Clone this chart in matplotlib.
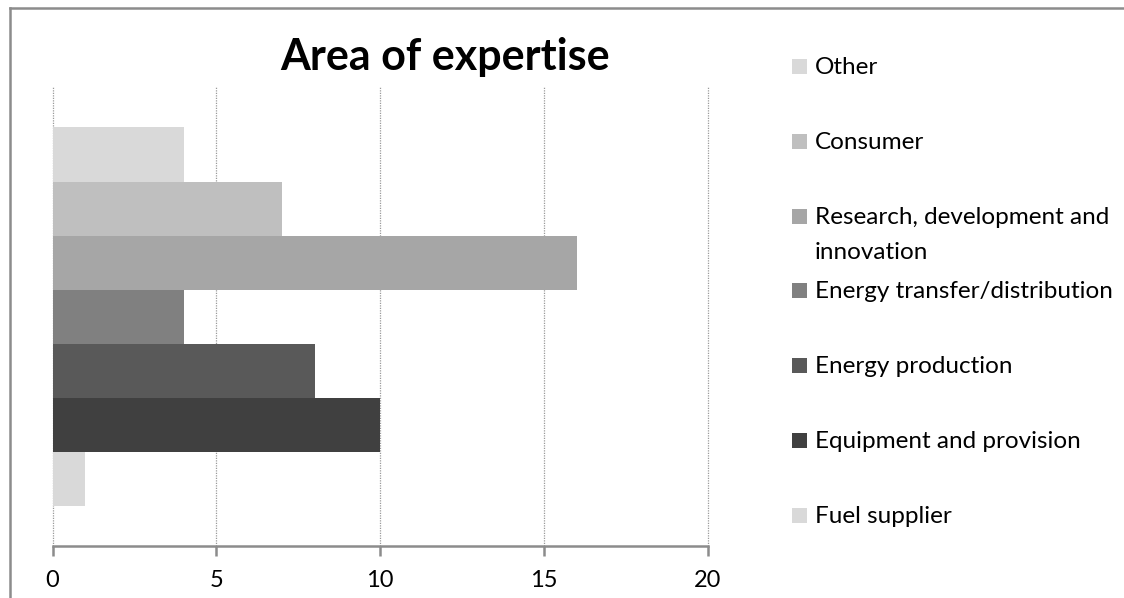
import matplotlib
matplotlib.use("Agg")
import matplotlib.pyplot as plt
from matplotlib.patches import Rectangle
from matplotlib.lines import Line2D

plt.rcParams['font.family'] = ['Lato', 'DejaVu Sans']

# Series, drawn bottom to top within the single category
series = ["Fuel supplier", "Equipment and provision", "Energy production",
          "Energy transfer/distribution", "Research, development and\ninnovation",
          "Consumer", "Other"]
values = [1, 10, 8, 4, 16, 7, 4]
colors = ["#D9D9D9", "#404040", "#595959", "#808080", "#A6A6A6", "#BFBFBF", "#D9D9D9"]
xticks = [0, 5, 10, 15, 20]
title = "Area of expertise"

W, H = 1124, 598
fig = plt.figure(figsize=(W / 100, H / 100), dpi=100)

def fx(px):
    return px / W

def fy(py):
    return 1 - py / H

# chart frame (top and left edges)
frame_kw = dict(transform=fig.transFigure, color="#8C8C8C", linewidth=1.8)
fig.add_artist(Line2D([fx(9.5), 1.0], [fy(7.5), fy(7.5)], **frame_kw))
fig.add_artist(Line2D([fx(9.5), fx(9.5)], [fy(7.5), 0.0], **frame_kw))

ax = fig.add_axes([fx(52.5), fy(546), fx(708 - 52.5), (546 - 87) / H])

n = len(series)
gap = 1.5
bh = 1.0 / (n + gap)
start = -0.5 + gap * bh / 2
for i, (v, c) in enumerate(zip(values, colors)):
    ax.barh(start + (i + 0.5) * bh, v, height=bh, color=c, zorder=2)

ax.set_xlim(0, 20)
ax.set_ylim(-0.5, 0.5)
ax.set_xticks(xticks)
ax.set_xticklabels([str(t) for t in xticks], fontsize=17)
ax.set_yticks([])
for t in xticks:
    ax.axvline(t, color="#9A9A9A", linestyle=(0, (1, 1)), linewidth=0.9,
               zorder=1, clip_on=False)
for s in ["top", "right", "left"]:
    ax.spines[s].set_visible(False)
ax.spines["bottom"].set_color("#8C8C8C")
ax.spines["bottom"].set_linewidth(1.8)
ax.spines["bottom"].set_zorder(3)
ax.tick_params(axis="x", length=7, width=1.8, color="#8C8C8C", pad=10)

fig.text(fx(445), fy(70), title, fontsize=31, fontweight="bold",
         ha="center", va="baseline")

# legend: entries top to bottom, evenly spaced by the baseline of their first line
first_base, last_base = 74, 523
step = (last_base - first_base) / (n - 1)
line_h = 35
sq = 15
for k, (lab, c) in enumerate(zip(series[::-1], colors[::-1])):
    base = first_base + k * step
    fig.patches.append(Rectangle((fx(792), fy(base)), sq / W, sq / H,
                                 transform=fig.transFigure, facecolor=c,
                                 edgecolor="none"))
    for j, line in enumerate(lab.split("\n")):
        fig.text(fx(815), fy(base + j * line_h), line, fontsize=17.5,
                 ha="left", va="baseline")

fig.savefig("out.png", dpi=100)
